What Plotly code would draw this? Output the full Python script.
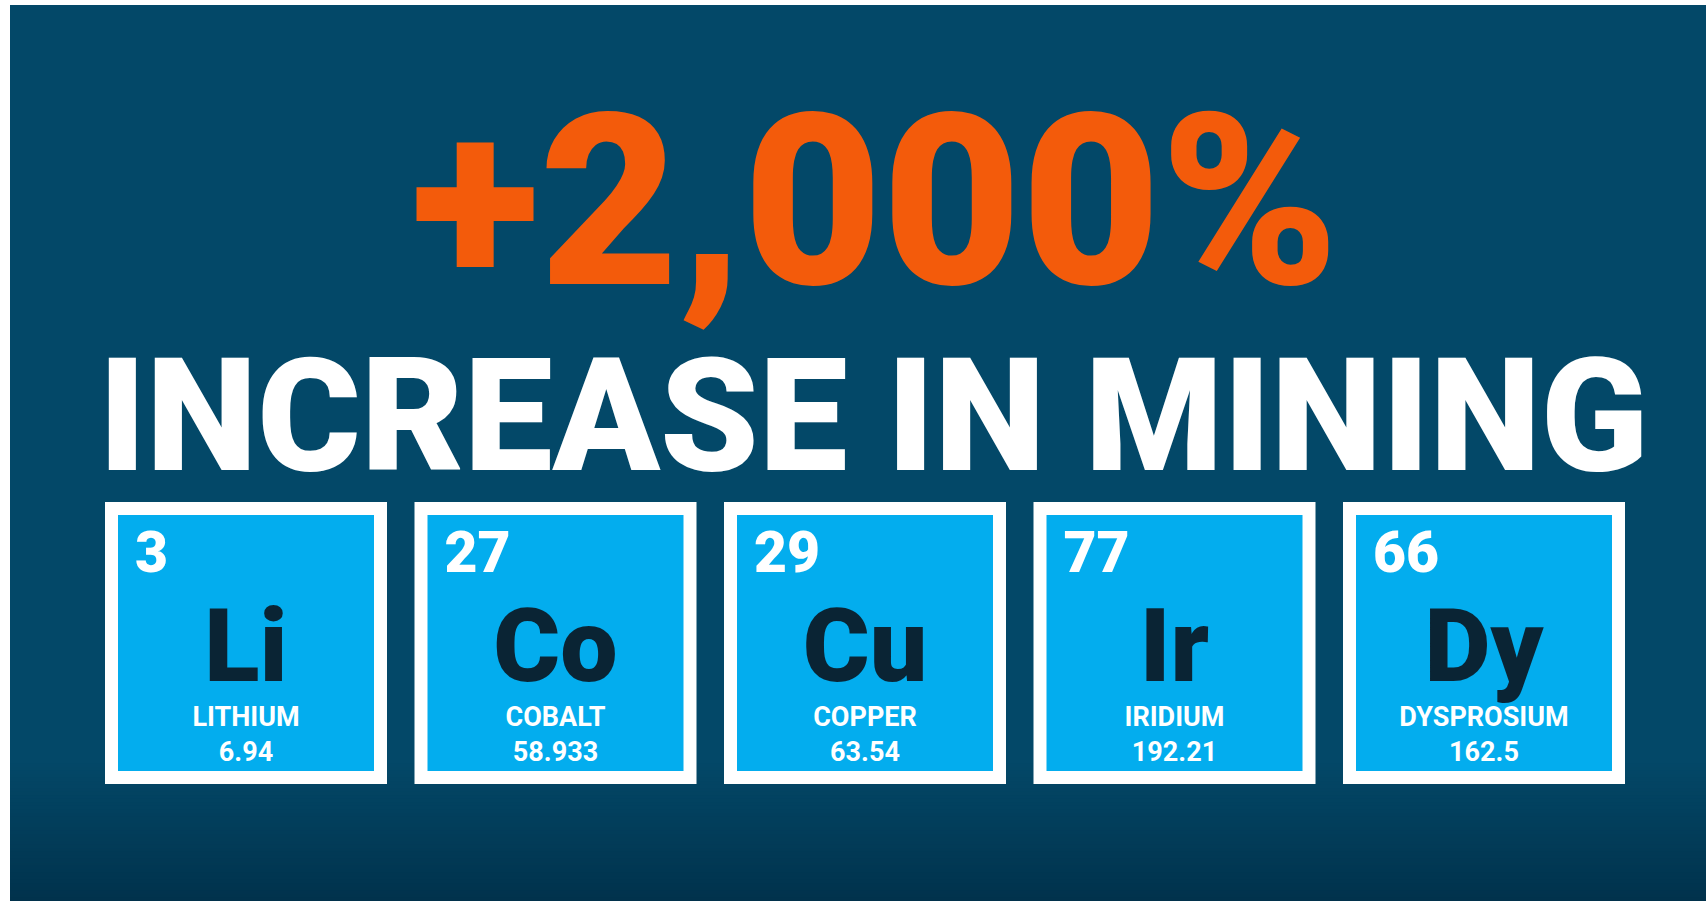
import plotly.graph_objects as go

# ---- data ----
headline = "+2,000%"
subheadline = "INCREASE IN MINING"
atomic_numbers = ["3", "27", "29", "77", "66"]
symbols = ["Li", "Co", "Cu", "Ir", "Dy"]
names = ["LITHIUM", "COBALT", "COPPER", "IRIDIUM", "DYSPROSIUM"]
weights = ["6.94", "58.933", "63.54", "192.21", "162.5"]

# ---- layout constants ----
W, H = 1706, 901
BG = "#034868"
BG_DARK = "#01324c"
ORANGE = "#f35b0b"
TILE_BLUE = "#03adee"
SYMBOL_COLOR = "#0a2434"
FONT = "Roboto"

TILE_LEFT0 = 105
TILE_STEP = 309.5
TILE_SIZE = 282
TILE_TOP = 502
BORDER = 13

fig = go.Figure()
shapes = []

# white page edge + dark background
shapes.append(dict(type="rect", x0=0, x1=W, y0=0, y1=H, fillcolor="white", line_width=0, layer="below"))
shapes.append(dict(type="rect", x0=10, x1=W, y0=5, y1=H, fillcolor=BG, line_width=0, layer="below"))

# bottom gradient
def mix(c1, c2, t):
    a = [int(c1[i:i + 2], 16) for i in (1, 3, 5)]
    b = [int(c2[i:i + 2], 16) for i in (1, 3, 5)]
    return "rgb(%d,%d,%d)" % tuple(round(a[k] + (b[k] - a[k]) * t) for k in range(3))

g0, g1, n = 760, H, 40
for k in range(n):
    y0 = g0 + (g1 - g0) * k / n
    y1 = g0 + (g1 - g0) * (k + 1) / n + 0.5
    shapes.append(dict(type="rect", x0=10, x1=W, y0=y0, y1=y1,
                       fillcolor=mix(BG, BG_DARK, (k + 0.5) / n), line_width=0, layer="below"))

lefts = [TILE_LEFT0 + TILE_STEP * i for i in range(len(symbols))]
for L in lefts:
    shapes.append(dict(type="rect", x0=L, x1=L + TILE_SIZE, y0=TILE_TOP, y1=TILE_TOP + TILE_SIZE,
                       fillcolor="white", line_width=0, layer="below"))
    shapes.append(dict(type="rect", x0=L + BORDER, x1=L + TILE_SIZE - BORDER,
                       y0=TILE_TOP + BORDER, y1=TILE_TOP + TILE_SIZE - BORDER,
                       fillcolor=TILE_BLUE, line_width=0, layer="below"))

centers = [L + TILE_SIZE / 2 for L in lefts]

def text_trace(xs, ys, texts, size, color, pos="middle center", weight=900):
    return go.Scatter(x=xs, y=ys, text=texts, mode="text", textposition=pos,
                      textfont=dict(family=FONT, size=size, color=color, weight=weight),
                      hoverinfo="skip", showlegend=False)

# headlines
fig.add_trace(text_trace([875], [224], [headline], 240, ORANGE))
fig.add_trace(text_trace([873.5], [430], [subheadline], 158, "white"))

# tiles
fig.add_trace(text_trace([L + 30 for L in lefts], [558] * 5, atomic_numbers, 57, "white", "middle right"))
fig.add_trace(text_trace(centers, [655] * 5, symbols, 102, SYMBOL_COLOR))
fig.add_trace(text_trace(centers, [719] * 5, names, 27, "white", weight=700))
fig.add_trace(text_trace(centers, [754] * 5, weights, 27, "white", weight=700))

fig.update_layout(
    width=W, height=H, margin=dict(l=0, r=0, t=0, b=0),
    paper_bgcolor="white", plot_bgcolor="rgba(0,0,0,0)",
    shapes=shapes,
    xaxis=dict(range=[0, W], visible=False, fixedrange=True),
    yaxis=dict(range=[H, 0], visible=False, fixedrange=True),
)

fig.write_html("out.html", config={"displayModeBar": False},
               post_script="document.body.style.margin='0';document.body.style.overflow='hidden';")
